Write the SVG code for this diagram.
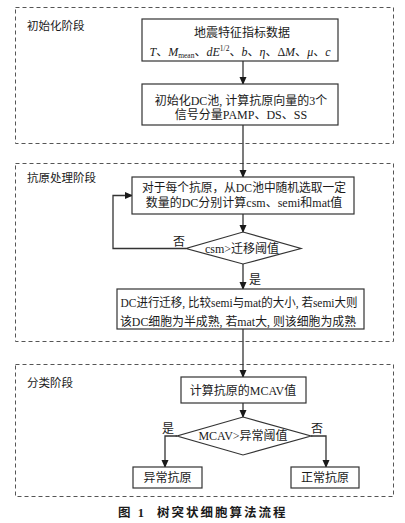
<svg xmlns="http://www.w3.org/2000/svg" width="405" height="523" viewBox="0 0 405 523">
<defs>
<marker id="ah" markerWidth="8" markerHeight="8" refX="7" refY="4" orient="auto" markerUnits="userSpaceOnUse">
<path d="M0,0.5 L8,4 L0,7.5 Z" fill="#1a1a1a"/>
</marker>
<style>
.stage{fill:none;stroke:#555;stroke-width:1;stroke-dasharray:4 3}
.box{fill:#fff;stroke:#333;stroke-width:1.2}
.ln{fill:none;stroke:#333;stroke-width:1.3}
text{font-family:"Liberation Serif","Noto Sans CJK SC",serif;font-size:12px;fill:#1a1a1a}
.c{text-anchor:middle}
.lbl{font-size:11.5px}
.it{font-style:italic}
.cap{font-weight:bold;font-size:12.5px;letter-spacing:2px}
</style>
</defs>
<rect width="405" height="523" fill="#fff"/>
<g id="stages">
<rect class="stage" x="15.5" y="7.5" width="378" height="136"/>
<rect class="stage" x="15.5" y="163.5" width="378" height="178"/>
<rect class="stage" x="15.5" y="364.5" width="378" height="132"/>
<text class="lbl" x="27" y="30">初始化阶段</text>
<text class="lbl" x="27" y="182">抗原处理阶段</text>
<text class="lbl" x="27" y="387">分类阶段</text>
</g>
<g id="connectors">
<line class="ln" x1="243" y1="61" x2="243" y2="84" marker-end="url(#ah)"/>
<line class="ln" x1="243" y1="125" x2="243" y2="177" marker-end="url(#ah)"/>
<line class="ln" x1="243" y1="214" x2="243" y2="232" marker-end="url(#ah)"/>
<polyline class="ln" points="186,248.5 113,248.5 113,195.5 132,195.5" marker-end="url(#ah)"/>
<line class="ln" x1="243" y1="264" x2="243" y2="289" marker-end="url(#ah)"/>
<line class="ln" x1="243" y1="329" x2="243" y2="377" marker-end="url(#ah)"/>
<line class="ln" x1="243" y1="403" x2="243" y2="417" marker-end="url(#ah)"/>
<polyline class="ln" points="177,436 165,436 165,467" marker-end="url(#ah)"/>
<polyline class="ln" points="311,436 326,436 326,467" marker-end="url(#ah)"/>
<text x="179" y="246" class="c">否</text>
<text x="255" y="284" class="c">是</text>
<text x="168" y="433" class="c">是</text>
<text x="317" y="433" class="c">否</text>
</g>
<g id="node-data">
<rect class="box" x="142" y="19" width="196" height="42"/>
<text class="c" x="242" y="37">地震特征指标数据</text>
<text class="c" x="240" y="56"><tspan class="it">T</tspan>、<tspan class="it">M</tspan><tspan font-size="7.5" dy="2">mean</tspan><tspan dy="-2">、</tspan><tspan class="it">dE</tspan><tspan font-size="7.5" dy="-5">1/2</tspan><tspan dy="5">、</tspan><tspan class="it">b</tspan>、<tspan class="it">η</tspan>、Δ<tspan class="it">M</tspan>、<tspan class="it">μ</tspan>、<tspan class="it">c</tspan></text>
</g>
<g id="node-init">
<rect class="box" x="142" y="84" width="196" height="41"/>
<text class="c" x="241" y="105">初始化DC池, 计算抗原向量的3个</text>
<text class="c" x="241" y="119">信号分量PAMP、DS、SS</text>
</g>
<g id="node-select">
<rect class="box" x="132" y="177" width="222" height="37"/>
<text class="c" x="244" y="192" textLength="204" lengthAdjust="spacingAndGlyphs">对于每个抗原，从DC池中随机选取一定</text>
<text class="c" x="244" y="207">数量的DC分别计算csm、semi和mat值</text>
</g>
<g id="node-csm">
<polygon class="box" points="243,232 301,248.5 243,264 186,248.5"/>
<text class="c" x="242" y="252.5">csm&gt;迁移阈值</text>
</g>
<g id="node-migrate">
<rect class="box" x="117" y="289" width="247" height="40"/>
<text class="c" x="239" y="307" textLength="237" lengthAdjust="spacingAndGlyphs">DC进行迁移, 比较semi与mat的大小, 若semi大则</text>
<text class="c" x="238" y="326" textLength="236" lengthAdjust="spacingAndGlyphs">该DC细胞为半成熟, 若mat大, 则该细胞为成熟</text>
</g>
<g id="node-mcav">
<rect class="box" x="181" y="377" width="125" height="26"/>
<text class="c" x="243" y="395">计算抗原的MCAV值</text>
</g>
<g id="node-threshold">
<polygon class="box" points="243,417 311,436 243,455 177,436"/>
<text class="c" x="243" y="440">MCAV&gt;异常阈值</text>
</g>
<g id="node-abnormal">
<rect class="box" x="133" y="467" width="69" height="21"/>
<text class="c" x="167.5" y="482">异常抗原</text>
</g>
<g id="node-normal">
<rect class="box" x="291" y="467" width="68" height="21"/>
<text class="c" x="325" y="482">正常抗原</text>
</g>
<g id="caption">
<text class="cap" x="118" y="517">图 1</text>
<text class="cap" x="157" y="517">树突状细胞算法流程</text>
</g>
</svg>
